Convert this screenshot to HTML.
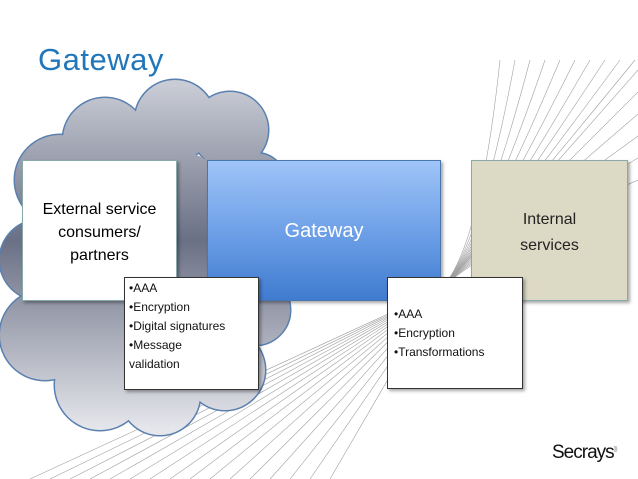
<!DOCTYPE html>
<html><head><meta charset="utf-8"><style>
body{margin:0;width:638px;height:479px;overflow:hidden;background:#fff;font-family:"Liberation Sans",sans-serif;position:relative}
.t{position:absolute;left:38px;top:42px;font-size:31px;color:#2277bb;letter-spacing:0.5px}
.b{position:absolute;box-sizing:border-box;box-shadow:2px 2px 3px rgba(0,0,0,0.35)}
</style></head><body>
<svg width="638" height="479" style="position:absolute;left:0;top:0">
<defs><linearGradient id="cg" gradientUnits="userSpaceOnUse" x1="0" y1="85" x2="0" y2="430">
<stop offset="0" stop-color="#c9ccd5"/><stop offset="0.45" stop-color="#6a7085"/><stop offset="1" stop-color="#e6e7ec"/></linearGradient></defs>
<g id="fan" stroke="#a0a0a0" stroke-width="0.6" fill="none"></g>
<g stroke="#5a80b0" stroke-width="3" fill="url(#cg)">
<circle cx="105" cy="140" r="42"/><circle cx="175" cy="120" r="40"/><circle cx="230" cy="130" r="38"/>
<circle cx="60" cy="180" r="45"/><circle cx="255" cy="185" r="32"/><circle cx="40" cy="260" r="40"/>
<circle cx="45" cy="335" r="45"/><circle cx="100" cy="385" r="45"/><circle cx="160" cy="395" r="40"/>
<circle cx="225" cy="370" r="40"/><circle cx="255" cy="310" r="35"/></g>
<g fill="url(#cg)">
<circle cx="105" cy="140" r="42"/><circle cx="175" cy="120" r="40"/><circle cx="230" cy="130" r="38"/>
<circle cx="60" cy="180" r="45"/><circle cx="255" cy="185" r="32"/><circle cx="40" cy="260" r="40"/>
<circle cx="45" cy="335" r="45"/><circle cx="100" cy="385" r="45"/><circle cx="160" cy="395" r="40"/>
<circle cx="225" cy="370" r="40"/><circle cx="255" cy="310" r="35"/><circle cx="150" cy="260" r="115"/></g>
</svg>
<script>
var g=document.getElementById('fan'),s='',fx=440,fy=290;
for(var i=0;i<16;i++){
var x1=30+i*20,y1=479;
var x2,y2;if(i<10){x2=500+i*15;y2=60;}else{x2=638;y2=70+(i-10)*22;}
s+='<path d="M'+x1+' '+y1+' L'+fx+' '+fy+' Q'+(fx+40)+' '+(fy-40)+' '+x2+' '+y2+'"/>';}
g.innerHTML=s;
</script>
<div class="t">Gateway</div>
<div class="b" style="left:22px;top:160px;width:155px;height:141px;background:#fff;border:1px solid #8aa;font-size:16px;line-height:23px;text-align:center;padding-top:37px">External service consumers/<br>partners</div>
<div class="b" style="left:207px;top:160px;width:234px;height:141px;background:linear-gradient(#9fc4f8,#6a9de6 55%,#3f7bcf);border:1px solid #4a76b0;color:#fff;font-size:20px;text-align:center;padding-top:59px">Gateway</div>
<div class="b" style="left:471px;top:160px;width:157px;height:141px;background:#dcd9c5;border:1px solid #8aa;font-size:16px;line-height:26px;text-align:center;padding-top:46px;color:#222">Internal<br>services</div>
<div class="b" style="left:124px;top:277px;width:135px;height:113px;background:#fff;border:1px solid #333;font-size:12px;line-height:19px;padding:1px 4px;color:#111">•AAA<br>•Encryption<br>•Digital signatures<br>•Message<br>validation</div>
<div class="b" style="left:387px;top:277px;width:136px;height:112px;background:#fff;border:1px solid #333;font-size:12px;line-height:19px;padding:27px 6px;color:#111">•AAA<br>•Encryption<br>•Transformations</div>
<div style="position:absolute;left:552px;top:442px;font-size:19px;letter-spacing:-1px;color:#111">Secrays<sup style="font-size:6px;color:#999">)))</sup></div>
</body></html>
